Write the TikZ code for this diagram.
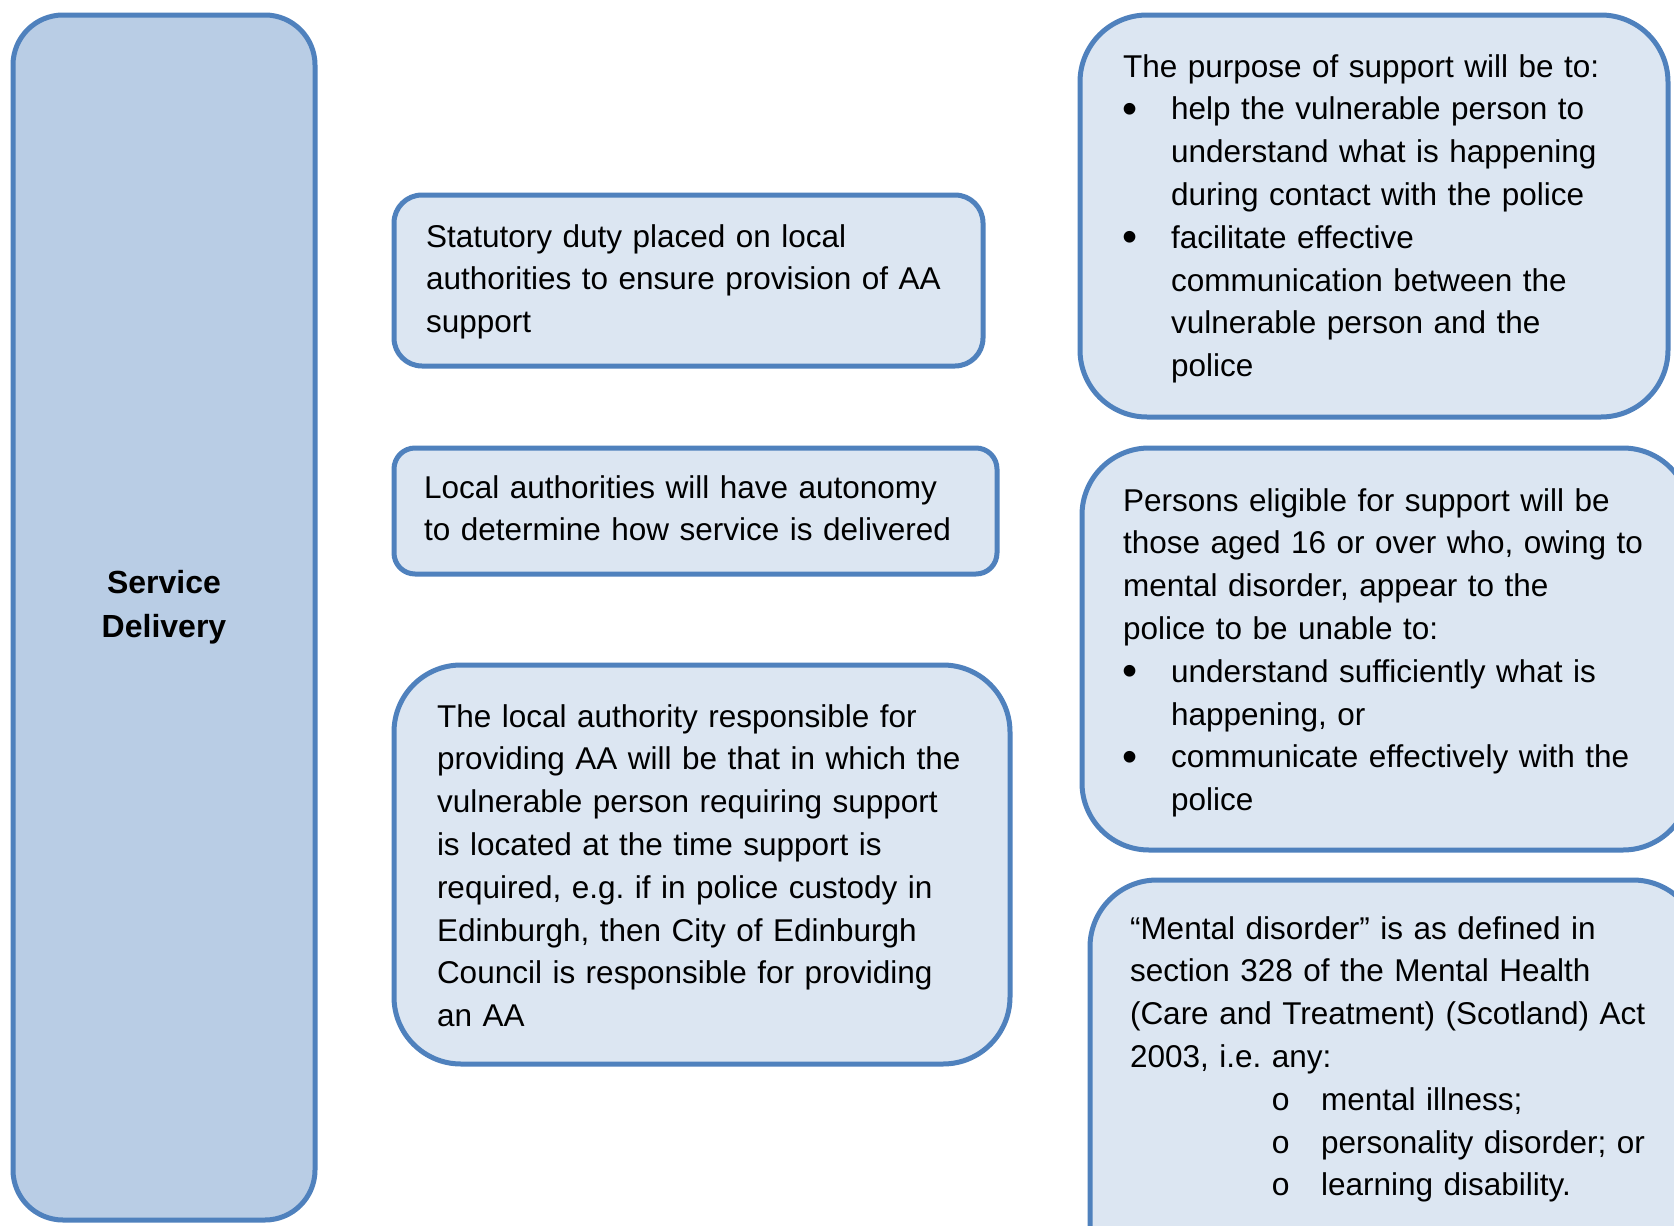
\documentclass[tikz,border=0pt]{standalone}
\usepackage{fontspec}
\setmainfont{Liberation Sans}
\newfontfamily\monofnt{Liberation Mono}
\definecolor{edgeblue}{HTML}{4F81BD}
\definecolor{darkfill}{HTML}{B9CDE5}
\definecolor{lightfill}{HTML}{DCE6F2}
\newcommand{\bul}{\makebox[48pt][l]{\hspace*{-1pt}\raisebox{-3.5pt}{\fontsize{43}{43}\selectfont\textbullet}}}
\newcommand{\ind}{\hspace*{48pt}}
\newcommand{\sub}{\hspace*{141pt}\makebox[50pt][l]{\fontsize{32}{32}\selectfont\monofnt o}}
\frenchspacing
\begin{document}
\begin{tikzpicture}[x=1pt,y=-1pt,
  box/.style={draw=edgeblue, line width=5pt, fill=lightfill, rounded corners=#1, inner sep=0pt, outer sep=0pt},
  txt/.style={anchor=base west, inner sep=0pt, outer sep=0pt, align=left, text width=640pt,
    font=\fontsize{31.5}{42.8}\selectfont\frenchspacing}]
\useasboundingbox (0,0) rectangle (1674,1226);
\clip (0,0) rectangle (1674,1226);
\fill[white] (0,0) rectangle (1674,1226);

% boxes
\node[box=50pt, fill=darkfill, minimum width=302pt, minimum height=1205pt] (sd) at (164,617.5) {};
\node[box=28pt, minimum width=589pt, minimum height=171pt] (b1) at (688.5,280.5) {};
\node[box=21pt, minimum width=603pt, minimum height=126pt] (b2) at (695.5,511) {};
\node[box=67pt, minimum width=616pt, minimum height=399pt] (b3) at (702,864.5) {};
\node[box=67pt, minimum width=588pt, minimum height=402pt] (b4) at (1374,216) {};
\node[box=67pt, minimum width=608pt, minimum height=402pt] (b5) at (1386,649) {};
\node[box=67pt, minimum width=610pt, minimum height=410pt] (b6) at (1395,1085) {};

% texts
\node[anchor=base, inner sep=0pt, align=center, font=\fontsize{32}{44}\selectfont\bfseries] (sdt) at (164,637)
  {Service\\Delivery};

\node[txt] (t1) at (426,247) {Statutory duty placed on local\\
authorities to ensure provision of AA\\
support};

\node[txt] (t2) at (424,498) {Local authorities will have autonomy\\
to determine how service is delivered};

\node[txt] (t3) at (437,727) {The local authority responsible for\\
providing AA will be that in which the\\
vulnerable person requiring support\\
is located at the time support is\\
required, e.g. if in police custody in\\
Edinburgh, then City of Edinburgh\\
Council is responsible for providing\\
an AA};

\node[txt] (t4) at (1123,77) {The purpose of support will be to:\\
\bul help the vulnerable person to\\
\ind understand what is happening\\
\ind during contact with the police\\
\bul facilitate effective\\
\ind communication between the\\
\ind vulnerable person and the\\
\ind police};

\node[txt] (t5) at (1123,511) {Persons eligible for support will be\\
those aged 16 or over who, owing to\\
mental disorder, appear to the\\
police to be unable to:\\
\bul understand sufficiently what is\\
\ind happening, or\\
\bul communicate effectively with the\\
\ind police};

\node[txt] (t6) at (1130,939) {“Mental disorder” is as defined in\\
section 328 of the Mental Health\\
(Care and Treatment) (Scotland) Act\\
2003, i.e. any:\\
\sub mental illness;\\
\sub personality disorder; or\\
\sub learning disability.};
\end{tikzpicture}
\end{document}
